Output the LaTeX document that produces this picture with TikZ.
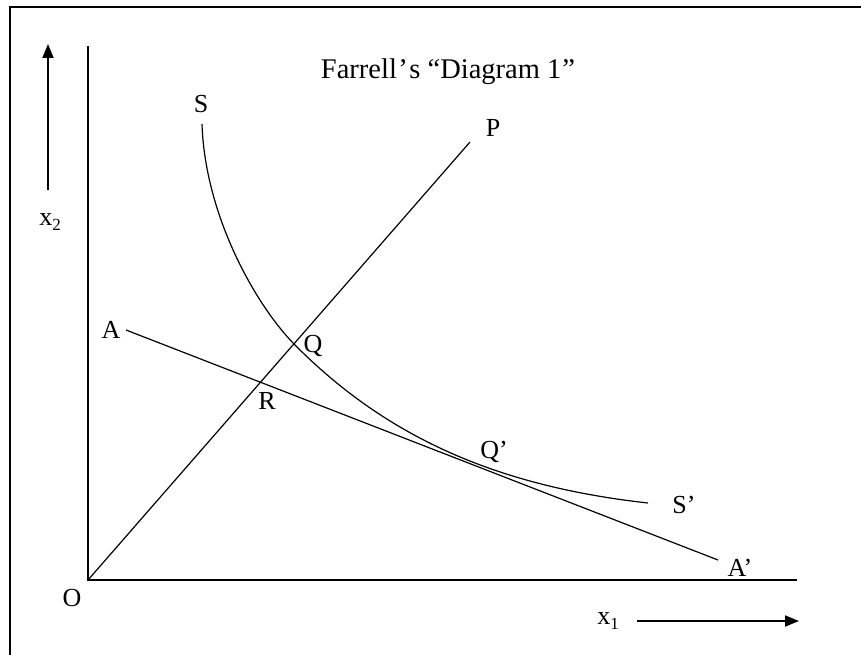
\documentclass[tikz,border=0pt]{standalone}
\usepackage{fontspec}
\setmainfont{Liberation Serif}
\usetikzlibrary{arrows.meta}
\begin{document}
\begin{tikzpicture}[x=1pt,y=-1pt,
  lbl/.style={inner sep=0pt,font=\fontsize{26}{29}\selectfont},
  axis/.style={line width=1.8pt},
  thin/.style={line width=1.2pt},
  dirarrow/.style={line width=1.8pt,-{Triangle[length=14pt,width=11pt]}}]
\useasboundingbox (0,0) rectangle (861,655);
\fill[white] (0,0) rectangle (861,655);
% frame (only left and top visible)
\draw[line width=2.4pt] (10,670) -- (10,7) -- (875,7);
% axes
\coordinate (O) at (88,580);
\coordinate (ytop) at (88,46);
\coordinate (xend) at (797,580);
\draw[axis] (ytop) -- (O) -- (xend);
% direction arrows
\coordinate (x2s) at (48,190);
\coordinate (x2e) at (48,44);
\draw[dirarrow] (x2s) -- (x2e);
\coordinate (x1s) at (637,621);
\coordinate (x1e) at (799,621);
\draw[dirarrow] (x1s) -- (x1e);
\node[lbl] (x2) at (50,222) {x\lower5pt\hbox{\fontsize{17}{17}\selectfont 2}};
\node[lbl] (x1) at (608,621) {x\lower5pt\hbox{\fontsize{17}{17}\selectfont 1}};
\node[lbl] (Olab) at (72,598) {O};
% title
\node[lbl,font=\fontsize{28.5}{32}\selectfont] (title) at (448,72) {Farrell\kern1.5pt’\kern1.5pt s “Diagram 1\kern1pt”};
% ray OP
\coordinate (Pend) at (470,142);
\draw[thin] (O) -- (Pend);
\node[lbl] (Plab) at (493,128) {P};
% isocost line AA'
\coordinate (Astart) at (126,330);
\coordinate (Aend) at (718,560);
\draw[thin] (Astart) -- (Aend);
\node[lbl] (Alab) at (111,330) {A};
\node[lbl] (A2lab) at (740,568) {A’};
% isoquant SS'
\coordinate (Stop) at (202,124);
\coordinate (Q) at (294,344);
\coordinate (Send) at (648,503);
\draw[thin] (Stop) .. controls (205,215) and (255,304) .. (Q)
  .. controls (385,436) and (495,486) .. (Send);
\node[lbl] (Slab) at (201,104) {S};
\node[lbl] (S2lab) at (684,505) {S’};
\node[lbl] (Qlab) at (313,346) {Q};
\node[lbl] (Rlab) at (267,401) {R};
\node[lbl] (Q2lab) at (494,452) {Q’};
\end{tikzpicture}
\end{document}
